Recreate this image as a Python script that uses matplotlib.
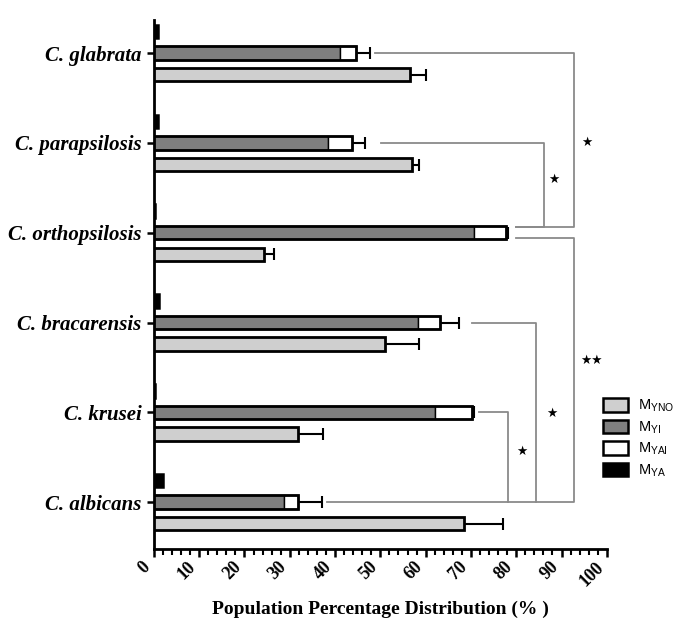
import numpy as np
import matplotlib
matplotlib.use('Agg')
import matplotlib.pyplot as plt
import matplotlib.transforms as mtransforms
from matplotlib.patches import Patch
from matplotlib.ticker import MultipleLocator

# --- Data, top to bottom ---
species = ['C. glabrata', 'C. parapsilosis', 'C. orthopsilosis',
           'C. bracarensis', 'C. krusei', 'C. albicans']
m_yno = [56.5, 57.0, 24.3, 51.0, 31.8, 68.5]
m_yno_err = [3.5, 1.5, 2.2, 7.5, 5.6, 8.5]
m_yi = [41.0, 38.4, 70.7, 58.3, 62.0, 28.7]
m_yai = [3.6, 5.3, 7.0, 4.8, 8.2, 3.1]
m_yai_err = [3.2, 3.0, 0.4, 4.2, 0.5, 5.4]
m_ya = [1.0, 0.8, 0.3, 1.2, 0.3, 2.0]

# significance brackets: (from, to, label)
pairs = [('C. glabrata', 'C. orthopsilosis', '★'),
         ('C. parapsilosis', 'C. orthopsilosis', '★'),
         ('C. orthopsilosis', 'C. albicans', '★★'),
         ('C. bracarensis', 'C. albicans', '★'),
         ('C. krusei', 'C. albicans', '★')]

C_NO, C_YI, C_YAI, C_YA = '#cfcfcf', '#7f7f7f', 'white', 'black'

ypos = np.arange(len(species))[::-1].astype(float)
yi_tot = np.array(m_yi) + np.array(m_yai)
h = 0.15
off = 0.24

plt.rcParams['mathtext.default'] = 'regular'

fig = plt.figure(figsize=(6.75, 6.23), dpi=100)
ax = fig.add_axes([0.228, 0.119, 0.671, 0.849])

ekw = dict(fmt='none', ecolor='black', elinewidth=1.5, capsize=4.5, capthick=1.5, zorder=1)

# M_YA (black, tiny)
ax.barh(ypos + off, m_ya, height=h, color=C_YA, edgecolor='black', linewidth=1.8, zorder=3)
# M_YI + M_YAI stacked
ax.barh(ypos, m_yi, height=h, color=C_YI, edgecolor='black', linewidth=1.0, zorder=3)
ax.barh(ypos, m_yai, left=m_yi, height=h, color=C_YAI, edgecolor='black', linewidth=1.0, zorder=3)
ax.barh(ypos, yi_tot, height=h, fill=False, edgecolor='black', linewidth=2.0, zorder=4)
ax.errorbar(yi_tot, ypos, xerr=[np.zeros(len(species)), m_yai_err], **ekw)
# M_YNO
ax.barh(ypos - off, m_yno, height=h, color=C_NO, edgecolor='black', linewidth=2.0, zorder=3)
ax.errorbar(m_yno, ypos - off, xerr=[np.zeros(len(species)), m_yno_err], **ekw)

# --- brackets ---
gray = '#8a8a8a'
lw = 1.3
yidx = dict(zip(species, ypos))
# start x, vertical x, return x, star x, star y
bx = {('C. glabrata', 'C. orthopsilosis'): (48.8, 92.7, 79.9, 95.6, 4.01),
      ('C. parapsilosis', 'C. orthopsilosis'): (50.1, 86.1, 79.9, 88.3, 3.59),
      ('C. orthopsilosis', 'C. albicans'): (79.9, 92.7, 38.2, 96.7, 1.58),
      ('C. bracarensis', 'C. albicans'): (70.2, 84.3, None, 87.9, 0.99),
      ('C. krusei', 'C. albicans'): (71.7, 78.1, None, 81.2, 0.56)}
for a, b, lab in pairs:
    x0, xv, x1, sx, sy = bx[(a, b)]
    ya = yidx[a]
    yb = yidx[b]
    if a == 'C. orthopsilosis':
        ya -= 0.06
    if b == 'C. orthopsilosis':
        yb += 0.06
    xs = [x0, xv, xv]
    ys = [ya, ya, yb]
    if x1 is not None:
        xs.append(x1)
        ys.append(yb)
    ax.plot(xs, ys, color=gray, lw=lw, zorder=2, clip_on=False)
    ax.text(sx, sy, lab, ha='center', va='center', fontsize=9, color='black')

# --- axes styling ---
ax.set_xlim(0, 100)
ax.set_ylim(-0.52, 5.37)
ax.set_yticks(ypos)
ax.set_yticklabels(species, fontfamily='Liberation Serif', fontweight='bold',
                   fontstyle='italic', fontsize=15)
ax.set_xticks(np.arange(0, 101, 10))
ax.xaxis.set_minor_locator(MultipleLocator(2))
ax.set_xticklabels([str(v) for v in range(0, 101, 10)], rotation=45, ha='right',
                   fontfamily='Liberation Serif', fontweight='bold', fontsize=13)
shift = mtransforms.ScaledTranslation(5 / 100, 0, fig.dpi_scale_trans)
for lbl in ax.get_xticklabels():
    lbl.set_transform(lbl.get_transform() + shift)
ax.tick_params(axis='x', which='major', length=6, width=1.8, direction='out', pad=1)
ax.tick_params(axis='x', which='minor', length=4, width=1.5, direction='out')
ax.tick_params(axis='y', which='major', length=5, width=1.8, direction='out', pad=4)
for s in ['top', 'right']:
    ax.spines[s].set_visible(False)
for s in ['left', 'bottom']:
    ax.spines[s].set_linewidth(2.0)
ax.set_xlabel('Population Percentage Distribution (% )', fontfamily='Liberation Serif',
              fontweight='bold', fontsize=14, labelpad=8)

# --- legend ---
handles = [Patch(facecolor=C_NO, edgecolor='black', linewidth=1.8),
           Patch(facecolor=C_YI, edgecolor='black', linewidth=1.8),
           Patch(facecolor=C_YAI, edgecolor='black', linewidth=1.8),
           Patch(facecolor=C_YA, edgecolor='black', linewidth=1.8)]
labels = [r'M$_{YNO}$', r'M$_{YI}$', r'M$_{YAI}$', r'M$_{YA}$']
leg = fig.legend(handles, labels, loc='upper left', bbox_to_anchor=(603 / 675, 1 - 398 / 623),
                 frameon=False, borderpad=0, borderaxespad=0, handlelength=1.7,
                 handleheight=1.0, handletextpad=0.7, labelspacing=0.35,
                 prop={'family': 'Liberation Sans', 'size': 10.5})

fig.savefig('out.png', dpi=100)
